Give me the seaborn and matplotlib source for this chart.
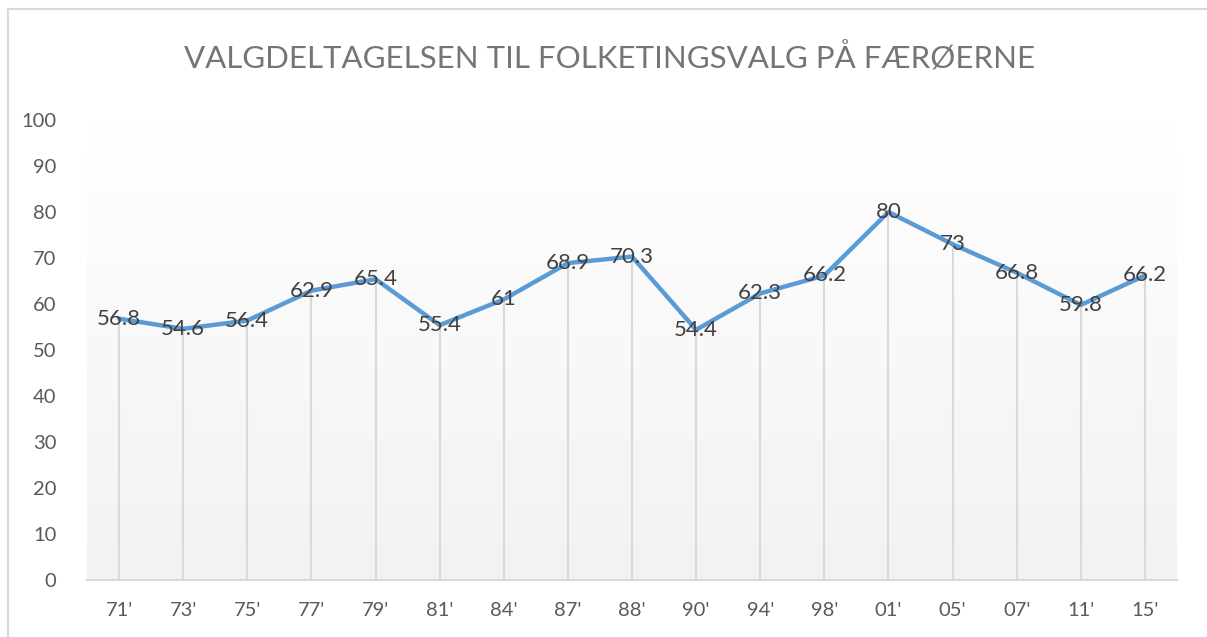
import numpy as np
import matplotlib
matplotlib.use("Agg")
import matplotlib.pyplot as plt
import seaborn as sns
from matplotlib.patches import Rectangle

sns.set_theme(style="white")
plt.rcParams["font.family"] = ["Lato", "DejaVu Sans"]

# data
years = ["71'", "73'", "75'", "77'", "79'", "81'", "84'", "87'", "88'",
         "90'", "94'", "98'", "01'", "05'", "07'", "11'", "15'"]
turnout = [56.8, 54.6, 56.4, 62.9, 65.4, 55.4, 61, 68.9, 70.3,
           54.4, 62.3, 66.2, 80, 73, 66.8, 59.8, 66.2]
point_labels = ["56.8", "54.6", "56.4", "62.9", "65.4", "55.4", "61", "68.9", "70.3",
                "54.4", "62.3", "66.2", "80", "73", "66.8", "59.8", "66.2"]
title = "VALGDELTAGELSEN TIL FOLKETINGSVALG PÅ FÆRØERNE"

W, H = 1207, 637
fig = plt.figure(figsize=(W / 100, H / 100), dpi=100)
ax = fig.add_axes([87 / W, 1 - 580 / H, (1177 - 87) / W, (580 - 120) / H])

# border around the chart
fig.patches.append(Rectangle((8 / W, -0.1), 1.2, 1 - 9 / H + 0.1,
                             transform=fig.transFigure, fill=False,
                             edgecolor="#d9d9d9", linewidth=1.5))

# gradient plot-area fill
grad = np.linspace(1, 0, 256).reshape(-1, 1)
ax.imshow(grad, extent=[-0.5, len(years) - 0.5, 0, 100], aspect="auto",
          cmap=matplotlib.colors.LinearSegmentedColormap.from_list("g", ["#f2f2f2", "#ffffff"]),
          zorder=0)

x = np.arange(len(years))
ax.vlines(x, 0, turnout, color="#d9d9d9", linewidth=1.5, zorder=1)
sns.lineplot(x=x, y=turnout, ax=ax, color="#5b9bd5", linewidth=3.2, zorder=3)

for xi, yi, lab in zip(x, turnout, point_labels):
    ax.text(xi, yi, lab, ha="center", va="center", fontsize=16,
            color="#404040", zorder=4)

ax.set_xlim(-0.5, len(years) - 0.5)
ax.set_ylim(0, 100)
ax.set_yticks(range(0, 101, 10))
ax.set_xticks(x)
ax.set_xticklabels(years)
ax.tick_params(axis="both", length=0, labelsize=14.5, labelcolor="#595959")
ax.tick_params(axis="y", pad=22)
ax.tick_params(axis="x", pad=16)
for s in ["top", "right", "left"]:
    ax.spines[s].set_visible(False)
ax.spines["bottom"].set_color("#d9d9d9")
ax.spines["bottom"].set_linewidth(1.5)
ax.set_xlabel("")
ax.set_ylabel("")

fig.text(610 / W, 1 - 57 / H, title, ha="center", va="center",
         fontsize=22.5, color="#757575")

fig.savefig("out.png", dpi=100)
